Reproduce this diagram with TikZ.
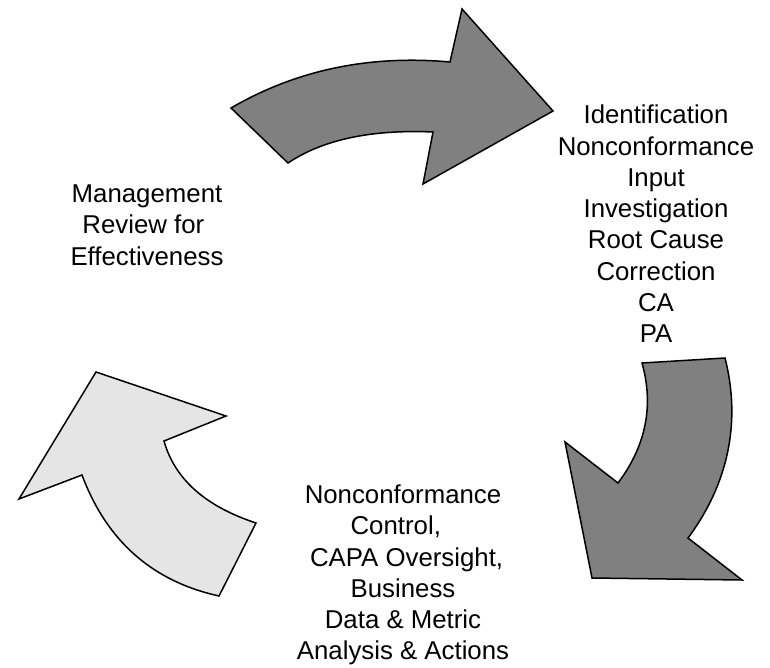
\documentclass[tikz,border=0pt]{standalone}
\usepackage{fontspec}
\setmainfont{Liberation Sans}
\begin{document}
\begin{tikzpicture}[x=1pt,y=-1pt,
  arrowshape/.style={draw=black,line width=1.5pt,line join=miter},
  darkarrow/.style={arrowshape,fill=gray},
  lightarrow/.style={arrowshape,fill=gray!20},
  label/.style={align=center,inner sep=0pt,font=\fontsize{25.8}{31.3}\selectfont}]
\useasboundingbox (0,0) rectangle (770,668);
% top arrow
\coordinate (t1) at (231,108);
\coordinate (t2) at (288,163);
\coordinate (t3) at (433,132);
\coordinate (t4) at (423,184);
\coordinate (t5) at (553,111);
\coordinate (t6) at (462,9);
\coordinate (t7) at (450,62);
\draw[darkarrow] (t1) -- (t2) .. controls (322.7,139.7) and (371,129.3) .. (t3) -- (t4) -- (t5) -- (t6) -- (t7) .. controls (369.3,54.7) and (296.3,70) .. cycle;
% right arrow
\coordinate (r1) at (642,363);
\coordinate (r2) at (725,358);
\coordinate (r3) at (688,538);
\coordinate (r4) at (742,580);
\coordinate (r5) at (592,578);
\coordinate (r6) at (565,442);
\coordinate (r7) at (618,483);
\draw[darkarrow] (r1) -- (r2) .. controls (741,421) and (729,482.7) .. (r3) -- (r4) -- (r5) -- (r6) -- (r7) .. controls (646,445.7) and (654,405.7) .. cycle;
% left arrow
\coordinate (l1) at (96,372);
\coordinate (l2) at (226,416);
\coordinate (l3) at (164,441);
\coordinate (l4) at (256,523);
\coordinate (l5) at (219,596);
\coordinate (l6) at (82,475);
\coordinate (l7) at (19,499);
\draw[lightarrow] (l1) -- (l2) -- (l3) .. controls (174.7,479) and (205.3,506.3) .. (l4) -- (l5) .. controls (152.3,581.3) and (106.7,541) .. (l6) -- (l7) -- cycle;
% texts
\node[label] (steps) at (656,224) {Identification\\Nonconformance\\Input\\Investigation\\Root Cause\\Correction\\CA\\PA};
\node[label] (review) at (147,225) {Management\\Review for\kern0.28em\\Effectiveness};
\node[label] (control) at (403,575) {Nonconformance\\Control,\kern0.56em\\\kern0.28em CAPA Oversight,\\Business\\Data \& Metric\\Analysis \& Actions};
\end{tikzpicture}
\end{document}
